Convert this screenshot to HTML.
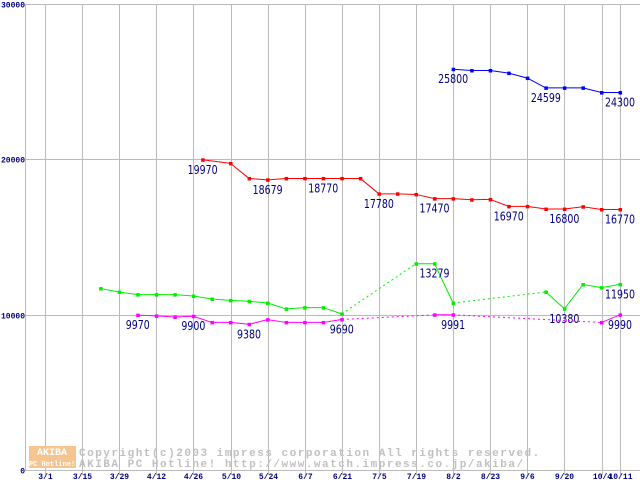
<!DOCTYPE html>
<html><head><meta charset="utf-8"><style>
body{margin:0;background:#fff;}
svg{display:block;font-family:"Liberation Mono",monospace;}
</style></head><body>
<svg id="chart" width="640" height="480" viewBox="0 0 640 480" xmlns="http://www.w3.org/2000/svg">
<g id="grid"></g>
<g id="wm">
  <rect x="29" y="446" width="47" height="11" fill="#f6c48f"/>
  <text x="52" y="455" font-size="10" font-weight="bold" fill="#fff" text-anchor="middle">AKIBA</text>
  <rect x="29" y="457" width="47" height="11" fill="#f6c48f"/>
  <text x="52" y="466" font-size="7" font-weight="bold" fill="#fff" text-anchor="middle">PC Hotline!</text>
  <text x="79" y="456" font-size="11" letter-spacing="1.5" font-weight="bold" fill="#c0c0c0">Copyright(c)2003 impress corporation All rights reserved.</text>
  <text x="79" y="467" font-size="11" letter-spacing="1.5" font-weight="bold" fill="#c0c0c0">AKIBA PC Hotline!  http://www.watch.impress.co.jp/akiba/</text>
</g>
<g id="series"></g>
</svg>
<script>
const yTicks=[0,10000,20000,30000];
const xLabels=["3/1","3/15","3/29","4/12","4/26","5/10","5/24","6/7","6/21","7/5","7/19","8/2","8/23","9/6","9/20","10/4","10/11"];
const xLabelSlots=[0,2,4,6,8,10,12,14,16,18,20,22,24,26,28,30,31];

const blueSlots=[22,23,24,25,26,27,28,29,30,31];
const blueVals=[25800,25720,25720,25550,25230,24599,24600,24600,24300,24300];
const blueLabelIdx=[0,5,9];

const redSlots=[8.5,10,11,12,13,14,15,16,17,18,19,20,21,22,23,24,25,26,27,28,29,30,31];
const redVals=[19970,19740,18770,18679,18770,18770,18770,18770,18770,17780,17780,17740,17470,17470,17400,17420,16970,16970,16800,16800,16950,16770,16770];
const redLabelIdx=[0,3,6,9,12,16,19,22];

const greenSlots=[3,4,5,6,7,8,9,10,11,12,13,14,15,16,20,21,22,27,28,29,30,31];
const greenVals=[11680,11460,11290,11290,11290,11200,11010,10920,10860,10750,10370,10450,10450,10050,13279,13279,10750,11460,10380,11940,11740,11950];
const greenLabelIdx=[15,18,21];

const pinkSlots=[5,6,7,8,9,10,11,12,13,14,15,16,21,22,30,31];
const pinkVals=[9970,9920,9850,9900,9500,9500,9380,9680,9500,9500,9500,9690,9991,9991,9500,9990];
const pinkLabelIdx=[0,3,6,11,13,15];

const NS="http://www.w3.org/2000/svg";
const X=s=>45+18.55*s;
const Y=v=>470-v*(466/30000);
function mk(tag,attrs,parent){const e=document.createElementNS(NS,tag);for(const k in attrs)e.setAttribute(k,attrs[k]);parent.appendChild(e);return e;}
const grid=document.getElementById('grid'), ser=document.getElementById('series');

let l=mk('line',{x1:25.5,y1:4,x2:25.5,y2:471,stroke:'#bbb'},grid);


yTicks.forEach(v=>{
  const y=Math.round(Y(v))+0.5;
  const g=mk('line',{x1:25,y1:y,x2:640,y2:y,stroke:'#bbb'},grid);
  
  
  const t=mk('text',{x:25,y:y+3,'font-size':8,'font-weight':'bold',fill:'#000080','text-anchor':'end'},grid);
  t.textContent=v;
  
  
});
xLabels.forEach((lab,i)=>{
  const x=Math.round(X(xLabelSlots[i]))+0.5;
  const g=mk('line',{x1:x,y1:4,x2:x,y2:475,stroke:'#bbb'},grid);
  
  
  const t=mk('text',{x:x,y:479,'font-size':8,'font-weight':'bold',fill:'#000080','text-anchor':'middle'},grid);
  t.textContent=lab;
  
  
});

function draw(name,color,slots,vals,labelIdx){
  const g=mk('g',{},ser);
  
  
  for(let i=1;i<slots.length;i++){
    const a={x1:X(slots[i-1]),y1:Y(vals[i-1]),x2:X(slots[i]),y2:Y(vals[i]),stroke:color,'stroke-width':1};
    if(slots[i]-slots[i-1]>2)a['stroke-dasharray']='2,3';
    const s=mk('line',a,g);
    
    
  }
  slots.forEach((s,i)=>{
    const m=mk('rect',{x:X(s)-1.5,y:Y(vals[i])-1.5,width:3.5,height:3.5,fill:color},g);
    
    
  });
  labelIdx.forEach(i=>{
    const t=mk('text',{x:X(slots[i]),y:Y(vals[i])+14,'font-size':12,fill:'#000080','text-anchor':'middle','font-family':'DejaVu Sans, sans-serif','textLength':30,'lengthAdjust':'spacingAndGlyphs'},g);
    t.textContent=vals[i];
    if(String(vals[i]).length<5) t.setAttribute('textLength',24);
    
    
  });
}
draw('blue','#0000ff',blueSlots,blueVals,blueLabelIdx);
draw('red','#ff0000',redSlots,redVals,redLabelIdx);
draw('green','#00ee00',greenSlots,greenVals,greenLabelIdx);
draw('magenta','#ff00ff',pinkSlots,pinkVals,pinkLabelIdx);
</script>
</body></html>
